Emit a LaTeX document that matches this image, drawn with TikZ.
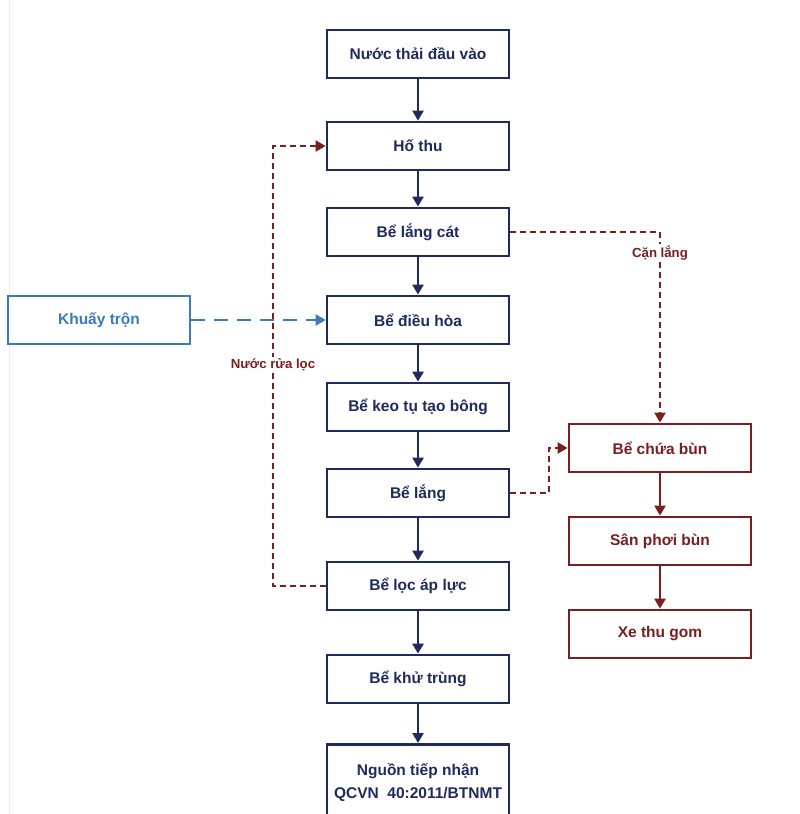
\documentclass[tikz,border=0pt]{standalone}
\usepackage{fontspec}
\setmainfont{Liberation Sans}
\usetikzlibrary{arrows.meta}
\definecolor{navy}{HTML}{1E2B5C}
\definecolor{dred}{HTML}{7A1E1E}
\definecolor{mblue}{HTML}{3C7AB9}
\tikzset{
  mainbox/.style={draw=navy, line width=2.8pt, fill=white, minimum width=182pt, minimum height=48pt, inner sep=0pt, text=navy, font=\bfseries\fontsize{15.5}{18}\selectfont, align=center},
  redbox/.style={mainbox, draw=dred, text=dred},
  bluebox/.style={mainbox, draw=mblue, text=mblue},
  flow/.style={navy, line width=2.8pt, -{Triangle[length=10pt,width=11pt]}},
  redflow/.style={dred, line width=2.8pt, -{Triangle[length=10pt,width=11pt]}},
  reddash/.style={dred, line width=2.4pt, dash pattern=on 6pt off 4pt, -{Triangle[length=10pt,width=11pt]}},
  bluedash/.style={mblue, line width=2.8pt, dash pattern=on 14pt off 9pt, -{Triangle[length=10pt,width=11pt]}},
  lbl/.style={fill=white, text=dred, font=\bfseries\fontsize{13.2}{15}\selectfont, inner sep=2pt}
}
\begin{document}
\begin{tikzpicture}[x=1pt,y=-1pt]
\useasboundingbox (0,0) rectangle (800,814);
\clip (0,0) rectangle (800,814);
\fill[white] (0,0) rectangle (800,814);
\draw[gray!15, line width=1pt] (9,0) -- (9,814);
% main column
\node[mainbox] (a) at (418,54) {Nước thải đầu vào};
\node[mainbox] (b) at (418,146) {Hố thu};
\node[mainbox] (c) at (418,232) {Bể lắng cát};
\node[mainbox] (d) at (418,320) {Bể điều hòa};
\node[mainbox] (e) at (418,407) {Bể keo tụ tạo bông};
\node[mainbox] (f) at (418,493) {Bể lắng};
\node[mainbox] (g) at (418,586) {Bể lọc áp lực};
\node[mainbox] (h) at (418,679) {Bể khử trùng};
\node[mainbox, minimum height=90pt, anchor=north] (i) at (418,743) {};
\node[text=navy, font=\bfseries\fontsize{15.5}{23}\selectfont, align=center] (it) at (418,783) {Nguồn tiếp nhận\\QCVN\ \ 40:2011/BTNMT};
% left
\node[bluebox] (k) at (99,320) {Khuấy trộn};
% right
\node[redbox] (r1) at (660,448) {Bể chứa bùn};
\node[redbox] (r2) at (660,541) {Sân phơi bùn};
\node[redbox] (r3) at (660,634) {Xe thu gom};
% main flow
\draw[flow] (a) -- (b);
\draw[flow] (b) -- (c);
\draw[flow] (c) -- (d);
\draw[flow] (d) -- (e);
\draw[flow] (e) -- (f);
\draw[flow] (f) -- (g);
\draw[flow] (g) -- (h);
\draw[flow] (h) -- (i);
\draw[redflow] (r1) -- (r2);
\draw[redflow] (r2) -- (r3);
% dashed
\coordinate (cr) at (660,232);
\draw[reddash] (c.east) -- (cr) -- (r1.north);
\node[lbl] (cl) at (660,253) {Cặn lắng};
\coordinate (f1) at (549,493);
\coordinate (f2) at (549,448);
\draw[reddash] (f.east) -- (f1) -- (f2) -- (r1.west);
\coordinate (g1) at (273,586);
\coordinate (g2) at (273,146);
\draw[reddash] (g.west) -- (g1) -- (g2) -- (b.west);
\node[lbl] (nl) at (273,365) {Nước rửa lọc};
\draw[bluedash] (k.east) -- (d.west);
\end{tikzpicture}
\end{document}
